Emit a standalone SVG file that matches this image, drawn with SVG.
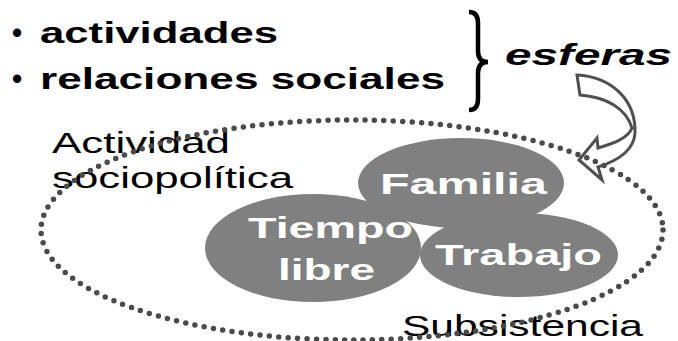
<svg xmlns="http://www.w3.org/2000/svg" width="678" height="341" viewBox="0 0 678 341">
<style>
.t{font-family:"Liberation Sans",Arial,sans-serif;}
.bk{font-weight:bold;fill:#000;font-size:29px;}
.wh{font-weight:bold;fill:#fff;font-size:30px;}
.rg{fill:#000;font-size:29px;}
.blob{fill:#808080;}
.dots{fill:none;stroke:#4a4a4a;stroke-width:5.5;stroke-linecap:round;stroke-dasharray:0 9.4;}
</style>
<rect width="678" height="341" fill="#fff"/>
<g id="bullets">
<text class="t bk" x="12" y="43">•</text>
<text class="t bk" x="40" y="43" textLength="238" lengthAdjust="spacingAndGlyphs">actividades</text>
<text class="t bk" x="12" y="89">•</text>
<text class="t bk" x="40" y="89" textLength="405" lengthAdjust="spacingAndGlyphs">relaciones sociales</text>
</g>
<g id="brace">
<path d="M469,12 Q478,12 478,23 L478,51 Q478,62 488,62 Q478,62 478,73 L478,99 Q478,110 469,110" fill="none" stroke="#000" stroke-width="4.5"/>
</g>
<g id="esferas">
<text class="t bk" x="505" y="65" font-style="italic" font-size="30" textLength="167" lengthAdjust="spacingAndGlyphs">esferas</text>
</g>
<g id="arrow">
<path d="M577,75 C612,77 636,100 635,133 C634,150 620,160 598,167 L602,180 L579,160 L597,138 L598,148 C615,143 628,138 632,128 C626,108 606,97 580,95 Z" fill="#fff" stroke="#505050" stroke-width="3" stroke-linejoin="miter"/>
</g>
<g id="actividad">
<text class="t rg" x="52" y="153" textLength="178" lengthAdjust="spacingAndGlyphs">Actividad</text>
<text class="t rg" x="52" y="188" textLength="241" lengthAdjust="spacingAndGlyphs">sociopolítica</text>
</g>
<g id="subsistencia">
<text class="t rg" x="402" y="336" textLength="241" lengthAdjust="spacingAndGlyphs">Subsistencia</text>
</g>
<g id="connectors">
<ellipse class="dots" cx="352" cy="230" rx="311" ry="110"/>
</g>
<g id="familia">
<ellipse class="blob" cx="461" cy="183" rx="103" ry="45"/>
<text class="t wh" x="380" y="194" textLength="167" lengthAdjust="spacingAndGlyphs">Familia</text>
</g>
<g id="tiempo">
<ellipse class="blob" cx="313" cy="248" rx="108" ry="54"/>
<text class="t wh" x="248" y="238" textLength="165" lengthAdjust="spacingAndGlyphs">Tiempo</text>
<text class="t wh" x="278" y="280" textLength="97" lengthAdjust="spacingAndGlyphs">libre</text>
</g>
<g id="trabajo">
<ellipse class="blob" cx="519" cy="255" rx="99" ry="42"/>
<text class="t wh" x="435" y="265" textLength="167" lengthAdjust="spacingAndGlyphs">Trabajo</text>
</g>
</svg>
